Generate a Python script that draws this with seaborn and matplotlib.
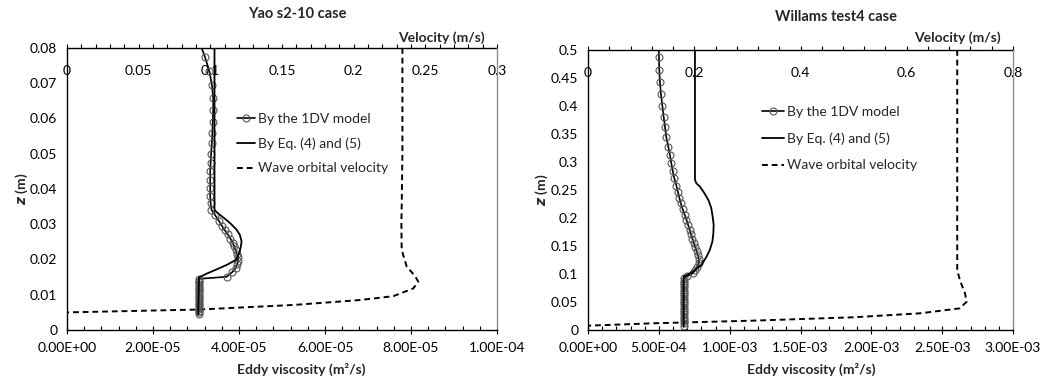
import matplotlib
matplotlib.use("Agg")
import matplotlib.pyplot as plt
from matplotlib.ticker import MultipleLocator, FuncFormatter
from matplotlib.lines import Line2D
import seaborn as sns

# Yao s2-10 case (left panel)
yao_1dv_z = [0.0800, 0.0774, 0.0735, 0.0695, 0.0658, 0.0624, 0.0591, 0.0560, 0.0530,
             0.0499, 0.0473, 0.0450, 0.0426, 0.0402, 0.0380, 0.0360, 0.0341, 0.0325,
             0.0310, 0.0296, 0.0283, 0.0271, 0.0259, 0.0248, 0.0237, 0.0226, 0.0216,
             0.0206, 0.0196, 0.0186, 0.0176, 0.0164, 0.0151,
             0.0145, 0.0140, 0.0135, 0.0130, 0.0125, 0.0120, 0.0115, 0.0110, 0.0105,
             0.0100, 0.0095, 0.0090, 0.0085, 0.0080, 0.0075, 0.0070, 0.0065, 0.0060,
             0.0055, 0.0050, 0.0045]
yao_1dv_nu = [3.13e-5, 3.21e-5, 3.31e-5, 3.37e-5, 3.40e-5, 3.40e-5, 3.39e-5, 3.38e-5, 3.37e-5,
              3.35e-5, 3.34e-5, 3.33e-5, 3.33e-5, 3.33e-5, 3.33e-5, 3.34e-5, 3.36e-5, 3.45e-5,
              3.53e-5, 3.60e-5, 3.67e-5, 3.74e-5, 3.80e-5, 3.85e-5, 3.89e-5, 3.92e-5, 3.95e-5,
              3.97e-5, 3.98e-5, 3.96e-5, 3.92e-5, 3.84e-5, 3.71e-5,
              3.06e-5, 3.06e-5, 3.06e-5, 3.06e-5, 3.06e-5, 3.06e-5, 3.06e-5, 3.06e-5, 3.06e-5,
              3.06e-5, 3.06e-5, 3.06e-5, 3.06e-5, 3.06e-5, 3.06e-5, 3.06e-5, 3.06e-5, 3.06e-5,
              3.06e-5, 3.06e-5, 3.06e-5]
yao_eq_z = [0.0800, 0.0340, 0.0330, 0.0315, 0.0300, 0.0285, 0.0270, 0.0251, 0.0235,
            0.0220, 0.0208, 0.0199, 0.0185, 0.0172, 0.0160, 0.0149, 0.0045]
yao_eq_nu = [3.43e-5, 3.43e-5, 3.52e-5, 3.68e-5, 3.82e-5, 3.94e-5, 4.02e-5, 4.06e-5, 4.04e-5,
             4.01e-5, 3.97e-5, 3.93e-5, 3.72e-5, 3.48e-5, 3.25e-5, 3.07e-5, 3.05e-5]
yao_wave_z = [0.0800, 0.0500, 0.0350, 0.0300, 0.0227, 0.0180, 0.0153, 0.0137, 0.0118,
              0.0096, 0.0085, 0.0071, 0.0058, 0.0050, 0.0047]
yao_wave_u = [0.234, 0.234, 0.2335, 0.2333, 0.2335, 0.237, 0.2428, 0.2451, 0.2416,
              0.2277, 0.2044, 0.158, 0.0916, 0.0, -0.03]

# Willams test4 case (right panel)
wil_1dv_z = [0.500, 0.488, 0.464, 0.442, 0.421, 0.400, 0.381, 0.362, 0.344, 0.327, 0.312,
             0.298, 0.284, 0.271, 0.258, 0.247, 0.236, 0.226, 0.216, 0.206, 0.197, 0.188,
             0.179, 0.171, 0.163, 0.155, 0.148, 0.141, 0.134, 0.127, 0.120, 0.113, 0.107,
             0.101, 0.096, 0.092,
             0.088, 0.084, 0.080, 0.076, 0.072, 0.068, 0.064, 0.060, 0.056, 0.052, 0.048,
             0.044, 0.040, 0.036, 0.032, 0.028, 0.024, 0.020, 0.016, 0.012, 0.008]
wil_1dv_nu = [4.99e-4, 5.01e-4, 5.03e-4, 5.08e-4, 5.15e-4, 5.25e-4, 5.34e-4, 5.44e-4, 5.53e-4,
              5.67e-4, 5.79e-4, 5.88e-4, 5.98e-4, 6.09e-4, 6.24e-4, 6.34e-4, 6.45e-4, 6.55e-4,
              6.68e-4, 6.82e-4, 6.95e-4, 7.06e-4, 7.17e-4, 7.27e-4, 7.37e-4, 7.47e-4, 7.57e-4,
              7.66e-4, 7.75e-4, 7.83e-4, 7.82e-4, 7.72e-4, 7.57e-4, 7.38e-4, 7.00e-4, 6.75e-4,
              6.75e-4, 6.75e-4, 6.75e-4, 6.75e-4, 6.75e-4, 6.75e-4, 6.75e-4, 6.75e-4, 6.75e-4,
              6.75e-4, 6.75e-4, 6.75e-4, 6.75e-4, 6.75e-4, 6.75e-4, 6.75e-4, 6.75e-4, 6.75e-4,
              6.75e-4, 6.75e-4, 6.75e-4]
wil_eq_z = [0.500, 0.268, 0.262, 0.256, 0.245, 0.232, 0.218, 0.202, 0.188, 0.173, 0.158,
            0.143, 0.130, 0.116, 0.104, 0.095, 0.006]
wil_eq_nu = [7.55e-4, 7.55e-4, 7.65e-4, 7.90e-4, 8.20e-4, 8.50e-4, 8.70e-4, 8.80e-4, 8.87e-4,
             8.85e-4, 8.78e-4, 8.60e-4, 8.35e-4, 8.00e-4, 7.40e-4, 6.75e-4, 6.75e-4]
wil_wave_z = [0.500, 0.107, 0.089, 0.0655, 0.0506, 0.0387, 0.0298, 0.0227, 0.0167,
              0.0120, 0.0077, 0.0060]
wil_wave_u = [0.695, 0.695, 0.700, 0.7096, 0.7128, 0.700, 0.625, 0.4994, 0.311,
              0.123, 0.0, -0.05]

labels = ["By the 1DV model", "By Eq. (4) and (5)", "Wave orbital velocity"]

sns.set_style("white")
plt.rcParams['font.family'] = ['Lato', 'DejaVu Sans']
plt.rcParams['font.size'] = 10

fig = plt.figure(figsize=(10.47, 3.83), dpi=100)
W, H = 1047, 383

panels = [
    dict(rect=(67, 48, 497, 330), title="Yao s2-10 case",
         z1=yao_1dv_z, n1=yao_1dv_nu, z2=yao_eq_z, n2=yao_eq_nu, zw=yao_wave_z, uw=yao_wave_u,
         xmax=1e-4, xmaj=2e-5, xmin=4e-6, ymax=0.08, ymaj=0.01, ymin=0.002,
         umax=0.3, umaj=0.05, umin=0.01,
         title_xy=(0.535, 1.106), leg_xy=(0.395, 0.77), leg_sp=0.9, leg_hl=1.3,
         xlab_xy=(0.544, -0.118), ulab_xy=(0.87, 1.021), ylab_x=-0.086),
    dict(rect=(588, 50, 1013, 330), title="Willams test4 case",
         z1=wil_1dv_z, n1=wil_1dv_nu, z2=wil_eq_z, n2=wil_eq_nu, zw=wil_wave_z, uw=wil_wave_u,
         xmax=3e-3, xmaj=5e-4, xmin=1e-4, ymax=0.5, ymaj=0.05, ymin=0.01,
         umax=0.8, umaj=0.2, umin=0.04,
         title_xy=(0.584, 1.104), leg_xy=(0.409, 0.80), leg_sp=1.04, leg_hl=1.6,
         xlab_xy=(0.525, -0.118), ulab_xy=(0.868, 1.029), ylab_x=-0.089),
]

gfmt = FuncFormatter(lambda v, p: "{:g}".format(round(v, 6)))
efmt = FuncFormatter(lambda v, p: "{:.2E}".format(v))

for pn in panels:
    x0, y0, x1, y1 = pn['rect']
    ax = fig.add_axes([x0 / W, 1 - y1 / H, (x1 - x0) / W, (y1 - y0) / H])
    ax2 = ax.twiny()

    # eddy viscosity profiles on the bottom axis
    sns.lineplot(x=pn['n1'], y=pn['z1'], ax=ax, sort=False, estimator=None,
                 color='black', lw=1.2, marker='o', markersize=5,
                 markerfacecolor='none', markeredgecolor='#555555', markeredgewidth=0.8,
                 markevery=slice(1, None))
    sns.lineplot(x=pn['n2'], y=pn['z2'], ax=ax, sort=False, estimator=None,
                 color='black', lw=1.3)
    # wave orbital velocity on the top axis
    sns.lineplot(x=pn['uw'], y=pn['zw'], ax=ax2, sort=False, estimator=None,
                 color='black', lw=1.4, linestyle=(0, (3, 2)))

    ax.set_xlim(0, pn['xmax'])
    ax.set_ylim(0, pn['ymax'])
    ax2.set_xlim(0, pn['umax'])

    ax.xaxis.set_major_locator(MultipleLocator(pn['xmaj']))
    ax.xaxis.set_minor_locator(MultipleLocator(pn['xmin']))
    ax.yaxis.set_major_locator(MultipleLocator(pn['ymaj']))
    ax.yaxis.set_minor_locator(MultipleLocator(pn['ymin']))
    ax2.xaxis.set_major_locator(MultipleLocator(pn['umaj']))
    ax2.xaxis.set_minor_locator(MultipleLocator(pn['umin']))
    ax.xaxis.set_major_formatter(efmt)
    ax.yaxis.set_major_formatter(gfmt)
    ax2.xaxis.set_major_formatter(gfmt)

    ax.tick_params(which='major', direction='inout', length=6, width=0.8, colors='black', labelsize=10)
    ax.tick_params(which='minor', direction='in', length=3, width=0.8, colors='black')
    ax.tick_params(axis='x', which='major', pad=6)
    ax.tick_params(axis='y', which='major', pad=4)
    ax.tick_params(top=False, right=False, which='both')
    ax2.tick_params(axis='x', which='both', direction='out', length=3, width=0.8, colors='black')
    ax2.tick_params(axis='x', which='major', pad=-24, labelsize=10)

    for s in ['left', 'bottom']:
        ax.spines[s].set_color('black')
        ax.spines[s].set_linewidth(1.0)
    ax.spines['right'].set_color('#8c8c8c')
    ax.spines['right'].set_linewidth(1.0)
    ax.spines['top'].set_visible(False)
    for s in ['left', 'right', 'bottom']:
        ax2.spines[s].set_visible(False)
    ax2.spines['top'].set_color('black')
    ax2.spines['top'].set_linewidth(1.0)

    # profiles drawn over the top-axis labels, as in the original
    ax.set_zorder(ax2.get_zorder() + 1)
    ax.patch.set_visible(False)

    ax.set_xlabel("Eddy viscosity (m²/s)", fontweight='bold', fontsize=10)
    ax.xaxis.set_label_coords(*pn['xlab_xy'])
    ax.set_ylabel("$\\bfit{z}$ (m)", fontweight='bold', fontsize=10)
    ax.yaxis.set_label_coords(pn['ylab_x'], 0.5)
    ax2.set_xlabel("Velocity (m/s)", fontweight='bold', fontsize=10)
    ax2.xaxis.set_label_coords(*pn['ulab_xy'])
    ax.set_title(pn['title'], fontweight='bold', fontsize=10.5, pad=0,
                 x=pn['title_xy'][0], y=pn['title_xy'][1])

    handles = [
        Line2D([], [], color='black', lw=1.2, marker='o', markersize=5,
               markerfacecolor='none', markeredgecolor='#555555', markeredgewidth=0.8),
        Line2D([], [], color='black', lw=1.3),
        Line2D([], [], color='black', lw=1.4, linestyle=(0, (3, 2))),
    ]
    ax.legend(handles, labels, loc='upper left', bbox_to_anchor=pn['leg_xy'],
              frameon=False, borderpad=0, borderaxespad=0, handlelength=pn['leg_hl'],
              handletextpad=0.2, labelspacing=pn['leg_sp'], fontsize=10)

fig.savefig("out.png", dpi=100)
